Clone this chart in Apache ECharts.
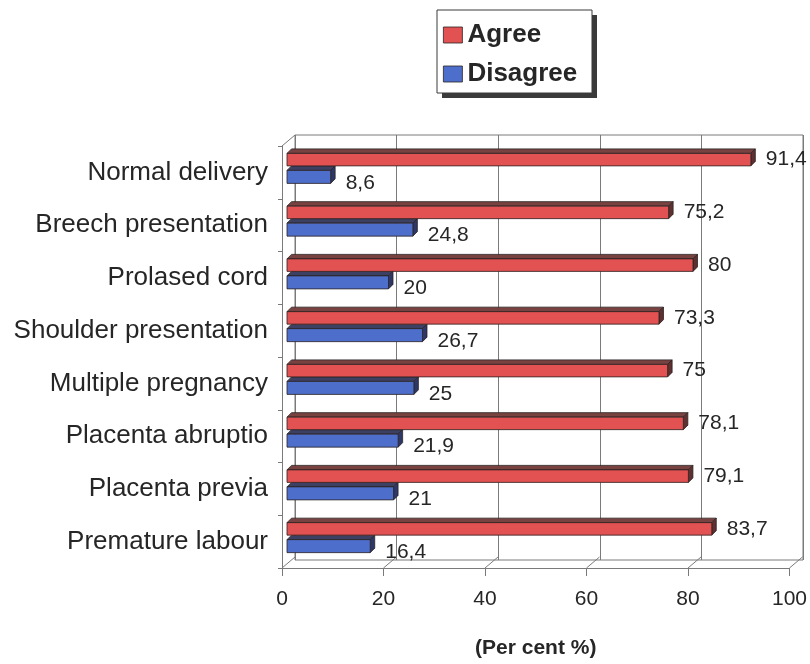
<!DOCTYPE html>
<html>
<head>
<meta charset="utf-8">
<script src="https://cdn.jsdelivr.net/npm/echarts@6/dist/echarts.min.js"></script>
<style>
  html, body { margin: 0; padding: 0; background: #ffffff; }
  #chart { width: 810px; height: 664px; }
</style>
</head>
<body>
<div id="chart"></div>
<script>
// Survey answers per obstetric situation (per cent)
const categories = [
  'Normal delivery',
  'Breech presentation',
  'Prolased cord',
  'Shoulder presentation',
  'Multiple pregnancy',
  'Placenta abruptio',
  'Placenta previa',
  'Premature labour'
];
const agree = [91.4, 75.2, 80, 73.3, 75, 78.1, 79.1, 83.7];
const disagree = [8.6, 24.8, 20, 26.7, 25, 21.9, 21, 16.4];
const xTicks = [0, 20, 40, 60, 80, 100];
const seriesNames = ['Agree', 'Disagree'];

const FONT = 'Liberation Sans, Arial, Helvetica, sans-serif';
const TEXT = '#262626';
const FRAME = '#7a7a7a';
// depth of the chart box (back wall offset from the front plane)
const DEPTH_X = 13, DEPTH_Y = -11;

const palette = [
  { front: '#e25252', top: '#774240', side: '#5f3030' },
  { front: '#4d6fcb', top: '#3c4163', side: '#2b3868' }
];

function fmt(v) { return String(v).replace('.', ','); }

function barRenderer(kind) {
  return function (params, api) {
    const v = api.value(0), ci = api.value(1);
    const p0 = api.coord([0, ci]);
    const p1 = api.coord([v, ci]);
    const c = p0[1] - 4;
    const x0 = p0[0] + 5, x1 = p1[0] + 5;
    const top = kind === 0 ? c - 15 : c + 2;
    const bot = kind === 0 ? c - 2.5 : c + 15;
    const d = 4.5;
    const col = palette[kind];
    const stroke = { stroke: '#2c2222', lineWidth: 0.8 };
    return {
      type: 'group',
      children: [
        { type: 'polygon', shape: { points: [[x0, top], [x1, top], [x1 + d, top - d], [x0 + d, top - d]] },
          style: Object.assign({ fill: col.top }, stroke) },
        { type: 'polygon', shape: { points: [[x1, top], [x1 + d, top - d], [x1 + d, bot - d], [x1, bot]] },
          style: Object.assign({ fill: col.side }, stroke) },
        { type: 'rect', shape: { x: x0, y: top, width: x1 - x0, height: bot - top },
          style: Object.assign({ fill: col.front }, stroke) },
        { type: 'text', x: x1 + 15, y: (top + bot) / 2 + (kind === 1 ? 6 : 0),
          style: { text: fmt(v), fill: TEXT, font: '21px ' + FONT, align: 'left', verticalAlign: 'middle' } }
      ]
    };
  };
}

// floor edges and the top-left edge joining front plane to back wall
function frameRenderer(params, api) {
  const v = api.value(0);
  const cs = params.coordSys;
  const x = api.coord([v, 0])[0];
  const yb = cs.y + cs.height;
  const children = [
    { type: 'line', shape: { x1: x, y1: yb, x2: x + DEPTH_X, y2: yb + DEPTH_Y },
      style: { stroke: FRAME, lineWidth: 1 } }
  ];
  if (v === xTicks[0]) {
    children.push({ type: 'line', shape: { x1: x, y1: cs.y, x2: x + DEPTH_X, y2: cs.y + DEPTH_Y },
      style: { stroke: FRAME, lineWidth: 1 } });
  }
  return { type: 'group', children: children };
}

const chart = echarts.init(document.getElementById('chart'), null, { renderer: 'canvas' });

// legend frame with a solid drop shadow
const LEG = { x: 437, y: 10, w: 155, h: 83, shadow: 5 };

chart.setOption({
  animation: false,
  color: [palette[0].front, palette[1].front],
  textStyle: { fontFamily: FONT, color: TEXT },
  graphic: [
    { type: 'rect', z: 90, silent: true,
      shape: { x: LEG.x + LEG.shadow, y: LEG.y + LEG.shadow, width: LEG.w, height: LEG.h },
      style: { fill: '#3a3a3a' } },
    { type: 'rect', z: 91, silent: true,
      shape: { x: LEG.x, y: LEG.y, width: LEG.w, height: LEG.h },
      style: { fill: '#ffffff', stroke: '#3a3a3a', lineWidth: 1 } }
  ],
  legend: {
    orient: 'vertical',
    left: LEG.x,
    top: LEG.y,
    z: 100,
    padding: [12, 10, 8, 6],
    itemGap: 13,
    itemWidth: 19,
    itemHeight: 16,
    icon: 'rect',
    itemStyle: { borderColor: '#2c2222', borderWidth: 0.8 },
    textStyle: { fontFamily: FONT, fontSize: 26, fontWeight: 'bold', color: TEXT, lineHeight: 26 },
    data: seriesNames
  },
  grid: [
    // back wall
    { left: 282 + DEPTH_X, right: 810 - 790 - DEPTH_X, top: 146 + DEPTH_Y, bottom: 93 - DEPTH_Y,
      show: true, borderColor: FRAME, borderWidth: 1, backgroundColor: 'transparent' },
    // front plane
    { left: 282, right: 20, top: 146, bottom: 93 }
  ],
  xAxis: [
    { gridIndex: 0, type: 'value', min: 0, max: 100, interval: 20,
      axisLine: { show: false }, axisTick: { show: false }, axisLabel: { show: false },
      splitLine: { show: true, lineStyle: { color: FRAME, width: 1 } } },
    { gridIndex: 1, type: 'value', min: 0, max: 100, interval: 20,
      axisLine: { show: true, lineStyle: { color: FRAME, width: 1 } },
      axisTick: { show: true, length: 8, lineStyle: { color: FRAME } },
      axisLabel: { fontSize: 21, color: TEXT, margin: 21, fontFamily: FONT },
      splitLine: { show: false },
      name: '(Per cent %)',
      nameLocation: 'middle',
      nameGap: 70,
      nameTextStyle: { fontSize: 21, fontWeight: 'bold', color: TEXT, fontFamily: FONT } }
  ],
  yAxis: [
    { gridIndex: 0, type: 'category', data: categories, inverse: true, show: false },
    { gridIndex: 1, type: 'category', data: categories, inverse: true,
      axisLine: { show: true, lineStyle: { color: FRAME, width: 1 } },
      axisTick: { show: true, length: 4, lineStyle: { color: FRAME } },
      axisLabel: { fontSize: 26, color: TEXT, margin: 14, fontFamily: FONT },
      splitLine: { show: false } }
  ],
  series: [
    { type: 'custom', name: 'frame', xAxisIndex: 1, yAxisIndex: 1, silent: true, z: 1,
      renderItem: frameRenderer,
      data: xTicks.map(function (t) { return [t, 0]; }),
      encode: { x: 0, y: 1 } },
    { type: 'custom', name: seriesNames[1], xAxisIndex: 1, yAxisIndex: 1, z: 2,
      itemStyle: { color: palette[1].front },
      renderItem: barRenderer(1),
      data: disagree.map(function (v, i) { return [v, i]; }),
      encode: { x: 0, y: 1 } },
    { type: 'custom', name: seriesNames[0], xAxisIndex: 1, yAxisIndex: 1, z: 3,
      itemStyle: { color: palette[0].front },
      renderItem: barRenderer(0),
      data: agree.map(function (v, i) { return [v, i]; }),
      encode: { x: 0, y: 1 } }
  ]
});
</script>
</body>
</html>
